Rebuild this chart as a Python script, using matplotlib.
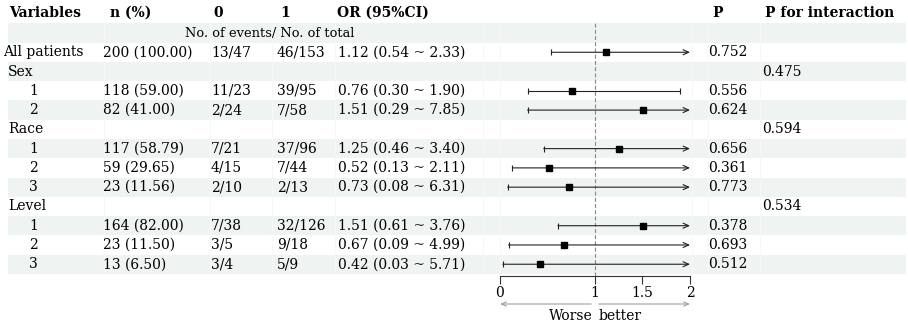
import numpy as np
import matplotlib
matplotlib.use("Agg")
import matplotlib.pyplot as plt
from matplotlib.patches import Rectangle

plt.rcParams['font.family'] = ['DejaVu Serif']
plt.rcParams['font.size'] = 10

# table data
labels = ["All patients", "Sex", "1", "2", "Race", "1", "2", "3", "Level", "1", "2", "3"]
is_group = [True, True, False, False, True, False, False, False, True, False, False, False]
n_pct = ["200 (100.00)", "", "118 (59.00)", "82 (41.00)", "", "117 (58.79)", "59 (29.65)",
         "23 (11.56)", "", "164 (82.00)", "23 (11.50)", "13 (6.50)"]
events_0 = ["13/47", "", "11/23", "2/24", "", "7/21", "4/15", "2/10", "", "7/38", "3/5", "3/4"]
events_1 = ["46/153", "", "39/95", "7/58", "", "37/96", "7/44", "2/13", "", "32/126", "9/18", "5/9"]
or_est = [1.12, np.nan, 0.76, 1.51, np.nan, 1.25, 0.52, 0.73, np.nan, 1.51, 0.67, 0.42]
or_low = [0.54, np.nan, 0.30, 0.29, np.nan, 0.46, 0.13, 0.08, np.nan, 0.61, 0.09, 0.03]
or_high = [2.33, np.nan, 1.90, 7.85, np.nan, 3.40, 2.11, 6.31, np.nan, 3.76, 4.99, 5.71]
p_value = ["0.752", "", "0.556", "0.624", "", "0.656", "0.361", "0.773", "", "0.378", "0.693", "0.512"]
p_inter = ["", "0.475", "", "", "0.594", "", "", "", "0.534", "", "", ""]

headers = ["Variables", "n (%)", "0", "1", "OR (95%CI)", "P", "P for interaction"]
header_x = [9, 110, 213, 280, 337, 712, 765]
subheader = "No. of events/ No. of total"
x_ticks = [0, 1, 1.5, 2]
x_max = 2

# layout (pixels)
W, H = 908, 324
y_head = 13
y0 = 33
dy = 19.27
shade = '#eff3f2'

fig = plt.figure(figsize=(W / 100, H / 100), dpi=100)
tab = fig.add_axes([0, 0, 1, 1])
tab.set_xlim(0, W)
tab.set_ylim(H, 0)
tab.axis('off')

n_rows = len(labels) + 1
row_y = [y0 + dy * r for r in range(n_rows)]

# background bands
for r, y in enumerate(row_y):
    if r % 2 == 0:
        tab.add_patch(Rectangle((8, y - dy / 2), W - 10, dy, fc=shade, ec='none', zorder=0))
for bx in [104, 210, 272, 335, 483, 500, 692, 708, 760]:
    tab.plot([bx, bx], [row_y[0] - dy / 2, row_y[-1] + dy / 2], color='#f6f8f7', lw=0.8, zorder=0.5)

# headers
for h, hx in zip(headers, header_x):
    tab.text(hx, y_head, h, ha='left', va='center', fontweight='bold')
tab.text(270, row_y[0], subheader, ha='center', va='center', fontsize=9.4)

# table body
for i in range(len(labels)):
    y = row_y[i + 1]
    if labels[i] == "All patients":
        lx = 3
    elif is_group[i]:
        lx = 8
    else:
        lx = 29
    tab.text(lx, y, labels[i], ha='left', va='center')
    tab.text(103, y, n_pct[i], ha='left', va='center')
    tab.text(211, y, events_0[i], ha='left', va='center')
    tab.text(277, y, events_1[i], ha='left', va='center')
    if not np.isnan(or_est[i]):
        tab.text(338, y, f"{or_est[i]:.2f} ({or_low[i]:.2f} ~ {or_high[i]:.2f})", ha='left', va='center')
    tab.text(708, y, p_value[i], ha='left', va='center')
    tab.text(762, y, p_inter[i], ha='left', va='center')

# forest panel
y_axis = 276
y_top = row_y[0] - dy / 2
fx0, fx1 = 500, 690
ax = fig.add_axes([fx0 / W, (H - y_axis) / H, (fx1 - fx0) / W, (y_axis - y_top) / H])
ax.patch.set_alpha(0)
ax.set_xlim(0, x_max)
ax.set_ylim(y_axis, y_top)
for s in ['top', 'right', 'left']:
    ax.spines[s].set_visible(False)
ax.spines['bottom'].set_color('#333333')
ax.spines['bottom'].set_linewidth(0.8)
ax.set_yticks([])
ax.set_xticks(x_ticks)
ax.set_xticklabels([f"{t:g}" for t in x_ticks])
ax.tick_params(axis='x', length=6, width=0.8, color='#333333', pad=1.5, labelsize=10)

ax.axvline(1, color='#888888', lw=0.8, ls=(0, (3.6, 2)), zorder=1)

for i in range(len(labels)):
    if np.isnan(or_est[i]):
        continue
    y = row_y[i + 1]
    lo, hi = or_low[i], or_high[i]
    if hi > x_max:
        ax.annotate('', xy=(x_max, y), xytext=(lo, y),
                    arrowprops=dict(arrowstyle='->,head_length=0.4,head_width=0.18',
                                    lw=0.8, color='#222222', shrinkA=0, shrinkB=0),
                    annotation_clip=False, zorder=2)
    else:
        ax.plot([lo, hi], [y, y], color='#222222', lw=0.8, zorder=2)
        ax.plot([hi], [y], marker='|', ms=5, mew=0.8, color='#222222', zorder=2)
    ax.plot([lo], [y], marker='|', ms=5, mew=0.8, color='#222222', zorder=2, clip_on=False)
    ax.plot([or_est[i]], [y], marker='s', ms=3.8, color='black', zorder=3, clip_on=False)

# direction arrows
arrow_kw = dict(arrowstyle='->,head_length=0.35,head_width=0.15', lw=0.8, color='#a0a0a0',
                shrinkA=0, shrinkB=0)
ax.annotate('', xy=(0, 304), xytext=(0.96, 304), arrowprops=arrow_kw, annotation_clip=False)
ax.annotate('', xy=(2, 304), xytext=(1.04, 304), arrowprops=arrow_kw, annotation_clip=False)
ax.text(0.975, 316, "Worse", ha='right', va='center', clip_on=False)
ax.text(1.04, 316, "better", ha='left', va='center', clip_on=False)

fig.savefig("out.png", dpi=100)
